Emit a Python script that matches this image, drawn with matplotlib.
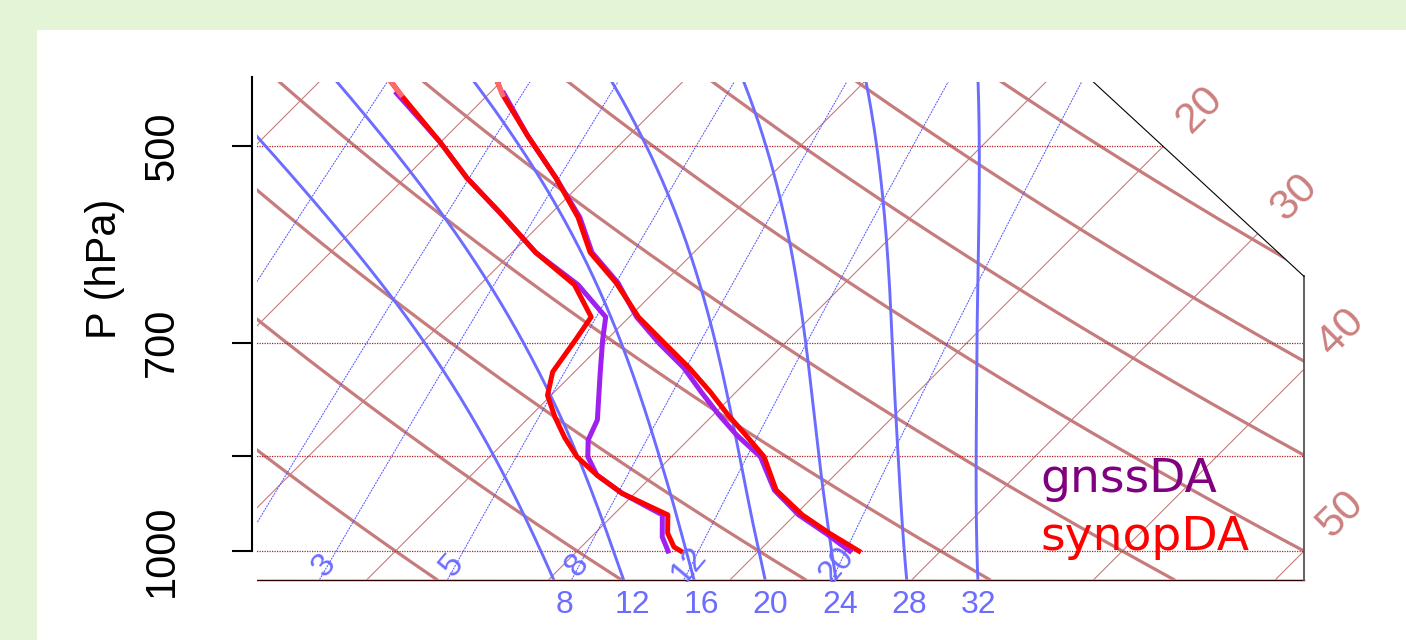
import numpy as np
import matplotlib
matplotlib.use('Agg')
import matplotlib.pyplot as plt
from matplotlib.patches import Polygon, Rectangle

plt.rcParams['font.family'] = ['Liberation Sans', 'DejaVu Sans']

# soundings (hPa, degC)
p_synop_t = [446, 458, 491, 528, 565, 600, 632, 670, 701, 731, 762, 792, 820, 851, 901, 940, 970, 1000]
t_synop = [-20.4, -19.2, -15.6, -11.7, -8.3, -5.7, -2.6, 0.5, 3.4, 6.1, 8.6, 10.8, 12.9, 15.1, 17.6, 20.4, 22.9, 25.5]
p_synop_td = [446, 458, 497, 528, 561, 600, 634, 670, 697, 736, 766, 795, 824, 851, 878, 906, 940, 970, 993, 1000]
td_synop = [-26.3, -24.8, -20.0, -16.6, -12.8, -8.7, -4.8, -2.1, -1.7, -1.2, -0.2, 1.4, 3.1, 4.8, 6.9, 9.3, 13.0, 14.0, 15.1, 15.7]

p_gnss_t = [457, 491, 528, 565, 600, 632, 670, 701, 731, 762, 792, 820, 851, 901, 940, 970, 1000]
t_gnss = [-19.2, -15.6, -11.7, -8.2, -5.6, -2.5, 0.4, 3.1, 5.8, 8.1, 10.3, 12.4, 14.9, 17.5, 20.2, 22.7, 25.0]
p_gnss_td = [457, 497, 528, 561, 600, 634, 670, 697, 738, 799, 827, 851, 878, 906, 940, 976, 1000]
td_gnss = [-25.1, -20.0, -16.6, -12.8, -8.7, -4.6, -1.3, -0.2, 1.5, 3.9, 4.5, 5.4, 6.9, 9.3, 12.7, 13.9, 15.0]

# diagram background definition
pres_lines = [1050, 1000, 850, 700, 500, 400]
pres_ticks = [1000, 850, 700, 500]
pres_ticklabels = ['1000', '', '700', '500']
isotherms = list(range(-100, 51, 10))
iso_labels = [20, 30, 40, 50]
dry_theta = list(range(-30, 171, 10))
moist_thw = [32, 28, 24, 20, 16, 12, 8]
mixrat = [20, 12, 8, 5, 3, 2, 1]

BROWN = '#c67c7c'
BLUE = '#6c6cff'


def skewty(p):
    return 132.182 - 44.061 * np.log10(p)


def skewtx(t, y):
    return 0.54 * np.asarray(t) + 0.90692 * np.asarray(y)


def tmr(w, p):
    # temperature on a mixing ratio line (degC)
    x = np.log10((w * p) / (622. + w))
    tk = 10 ** (0.0498646455 * x + 2.4082965) - 7.07475 + 38.9114 * ((10 ** (0.0915 * x) - 1.2035) ** 2)
    return tk - 273.15


def tda(theta, p):
    return (theta + 273.15) * ((p * 0.001) ** 0.286) - 273.15


def wobf(t):
    # Wobus function
    x = t - 20.
    if x <= 0:
        pol = 1. + x * (-8.8416605e-3 + x * (1.4714143e-4 + x * (-9.671989e-7 + x * (-3.2607217e-8 + x * (-3.8598073e-10)))))
        return 15.13 / pol ** 4
    pol = x * (4.9618922e-07 + x * (-6.1059365e-09 + x * (3.9401551e-11 + x * (-1.2588129e-13 + x * 1.668828e-16))))
    pol = 1. + x * (3.6182989e-03 + x * (-1.3603273e-05 + pol))
    return 29.93 / pol ** 4 + 0.96 * x - 14.8


def satlft(thw, p):
    # temperature on the saturated adiabat through thw at 1000 hPa
    if abs(p - 1000.) < 0.001:
        return thw
    pwrp = (p / 1000.) ** 0.28571426
    t1 = (thw + 273.15) * pwrp - 273.15
    e1 = wobf(t1) - wobf(thw)
    rate = 1.
    while True:
        t2 = t1 - e1 * rate
        e2 = (t2 + 273.15) / pwrp - 273.15
        e2 += wobf(t2) - wobf(e2) - thw
        eor = e2 * rate
        if abs(eor) < 0.01:
            return t2 - eor
        rate = (t2 - t1) / (e2 - e1)
        t1, e1 = t2, e2


fig = plt.figure(figsize=(14.06, 6.4), dpi=100, facecolor='#e3f4d7')
fig.patches.append(Rectangle((37 / 1406, 0), 1 - 37 / 1406, 610 / 640, transform=fig.transFigure,
                             facecolor='white', edgecolor='none', zorder=-5))
ax = fig.add_axes([257 / 1406, 1 - 582 / 640, 1149 / 1406, 500 / 640])
ax.set_facecolor('none')
ax.set_xlim(-4.116, 30.03)
ax.set_ylim(-1.015, 15.357)

y1050 = skewty(1050)
xmin = skewtx(-40, y1050)
xmax = skewtx(50, skewty(1000))
kinkx = skewtx(5, skewty(400))
bx = [xmin, xmax, xmax, kinkx, kinkx, xmin, xmin]
by = [y1050, y1050, skewty(625), skewty(400), skewty(100), skewty(100), y1050]
clip = Polygon(np.column_stack([bx, by]), closed=True, transform=ax.transData,
               facecolor='none', edgecolor='none')

pp = np.linspace(1050, 100, 200)
yy = skewty(pp)

# isotherms
for t in isotherms:
    ln, = ax.plot(skewtx(t, yy), yy, color=BROWN, lw=0.8)
    ln.set_clip_path(clip)

# dry adiabats
for th in dry_theta:
    ln, = ax.plot(skewtx(tda(th, pp), yy), yy, color=BROWN, lw=2.3)
    ln.set_clip_path(clip)

# pressure lines
for p in pres_lines:
    ln, = ax.plot([xmin, xmax], [skewty(p), skewty(p)], color='#b22222', lw=0.9, ls=(0, (1, 1)))
    ln.set_clip_path(clip)

# mixing ratio lines
for w in mixrat:
    ln, = ax.plot(skewtx(tmr(w, pp), yy), yy, color='#5050ff', lw=0.7, ls=(0, (2, 1)))
    ln.set_clip_path(clip)
    ax.text(skewtx(tmr(w, 1050), y1050) + 0.15, (skewty(1000) + y1050) / 2, str(w),
            rotation=50, ha='center', va='center', fontsize=24, color=BLUE, clip_on=True)

# saturated adiabats
pm = np.linspace(1100, 100, 201)
for thw in moist_thw:
    ts = np.array([satlft(thw, p) for p in pm])
    ln, = ax.plot(skewtx(ts, skewty(pm)), skewty(pm), color=BLUE, lw=2.1)
    ln.set_clip_path(clip)
    t_lab = satlft(thw, 1097)
    ax.text(skewtx(t_lab, skewty(1097)), skewty(1097), str(thw), ha='center', va='center',
            fontsize=23, color=BLUE, clip_on=False)

# outline of the diagram
ax.plot(bx[:2], by[:2], color='#300000', lw=1.0)
ax.plot(bx[1:3], by[1:3], color='#555555', lw=1.3)
ax.plot(bx[2:4], by[2:4], color='black', lw=0.8)

# isotherm labels past the outline
xa, ya, xb, yb = xmax, skewty(625), kinkx, skewty(400)
for t in iso_labels:
    ye = (xmax - 0.54 * t) / 0.90692
    if ye > ya:
        s = (0.54 * t - (xa - 0.90692 * ya)) / ((xb - xa) - 0.90692 * (yb - ya))
        ye = ya + (yb - ya) * s
    yl = ye + 1.2
    ax.text(skewtx(t, yl), yl, str(t), rotation=45, ha='center', va='center',
            fontsize=31, color='#cc8080', clip_on=False)

# soundings
def draw(p, t, color, lw=3.6):
    y = skewty(np.array(p, dtype=float))
    return ax.plot(skewtx(t, y), y, color=color, lw=lw)

draw(p_gnss_t, t_gnss, '#a020f0')
draw(p_gnss_td, td_gnss, '#a020f0')
draw(p_synop_t, t_synop, 'red')
draw(p_synop_td, td_synop, 'red')
draw(p_synop_t[:2], t_synop[:2], '#ff6b6b')
draw(p_synop_td[:2], td_synop[:2], '#ff6b6b')

# pressure axis
for side in ['top', 'right', 'bottom']:
    ax.spines[side].set_visible(False)
ax.spines['left'].set_position(('outward', 3.6))
ax.spines['left'].set_bounds(skewty(1000), 15.52)
ax.spines['left'].set_linewidth(1.5)
ax.set_xticks([])
ax.set_yticks(skewty(np.array(pres_ticks, dtype=float)))
ax.set_yticklabels(pres_ticklabels)
ax.tick_params(axis='y', length=14.4, width=1.5, pad=36, labelsize=30)
for lab in ax.get_yticklabels():
    lab.set_rotation(90)
    lab.set_va('center')
fig.text(105 / 1406, 1 - 269 / 640, 'P (hPa)', rotation=90, ha='center', va='center', fontsize=30)

fig.text(1040 / 1406, 1 - 492 / 640, 'gnssDA', color='#800080', fontsize=34, family='DejaVu Sans', va='baseline')
fig.text(1040 / 1406, 1 - 550 / 640, 'synopDA', color='red', fontsize=34, family='DejaVu Sans', va='baseline')

fig.savefig('out.png', dpi=100, facecolor=fig.get_facecolor())
